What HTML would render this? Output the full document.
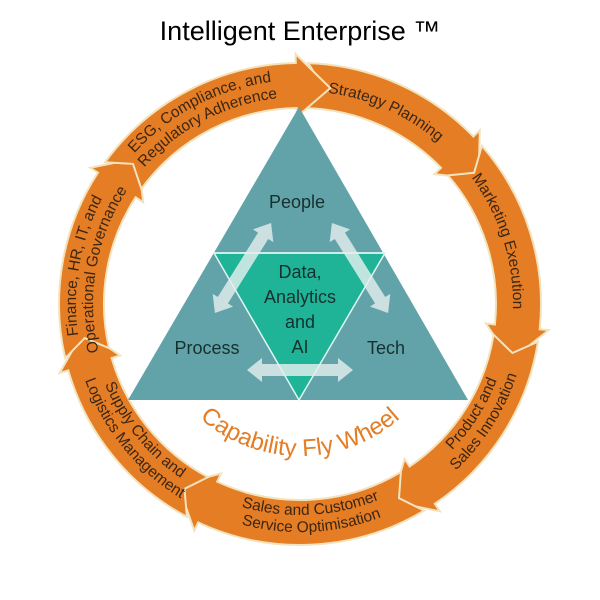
<!DOCTYPE html>
<html><head><meta charset="utf-8">
<style>
html,body{margin:0;padding:0;background:#fff;width:600px;height:600px;overflow:hidden}
svg{display:block}
.seg{fill:#e47d24;stroke:#f3e3bd;stroke-width:2;stroke-linejoin:miter}
.lbl{font-family:"Liberation Sans",sans-serif;font-size:15.5px;fill:#3b2614}
.tri{font-family:"Liberation Sans",sans-serif;font-size:18px;fill:#16302f}
</style></head>
<body>
<svg id="s" width="600" height="600" viewBox="0 0 600 600" xmlns="http://www.w3.org/2000/svg">
<defs>
<polygon id="dbl" points="-53,0 -38,-12 -38,-6 38,-6 38,-12 53,0 38,12 38,6 -38,6 -38,12"/>
</defs>
<text x="300" y="40" text-anchor="middle" font-family="Liberation Sans,sans-serif" font-size="27" fill="#000">Intelligent Enterprise ™</text>
<g id="ring"></g>
<polygon points="299,107 468,400 128,400" fill="#62a3a9"/>
<polygon points="214,253 385,253 299,400" fill="#1fb497" stroke="#dff7f2" stroke-width="1.5"/>
<line x1="214" y1="253" x2="385" y2="253" stroke="#dff7f2" stroke-width="1.5"/>
<g fill="#e4eeee" fill-opacity="0.82">
<use href="#dbl" transform="translate(243,268) rotate(-58)"/>
<use href="#dbl" transform="translate(360,268) rotate(58)"/>
<use href="#dbl" transform="translate(300,370)"/>
</g>
<text class="tri" x="297" y="208" text-anchor="middle">People</text>
<text class="tri" x="207" y="354" text-anchor="middle">Process</text>
<text class="tri" x="386" y="354" text-anchor="middle">Tech</text>
<text class="tri" text-anchor="middle"><tspan x="300" y="278">Data,</tspan><tspan x="300" y="303">Analytics</tspan><tspan x="300" y="328">and</tspan><tspan x="300" y="353">AI</tspan></text>
<g id="labels"></g>
</svg>
<script>
var cx=300,cy=304,R1=196,R2=241,Rm=218;
function P(r,a){a=a*Math.PI/180;return (cx+r*Math.cos(a)).toFixed(1)+","+(cy+r*Math.sin(a)).toFixed(1);}
var B=[-88,-41,9,59,118,167,216,272];
var ns="http://www.w3.org/2000/svg";
var ring=document.getElementById("ring"),labels=document.getElementById("labels"),svg=document.getElementById("s");
var defs=svg.querySelector("defs");
for(var i=0;i<7;i++){
 var a=B[i],b=B[i+1]-3;
 var d="M"+P(R2,a)+" L"+P(Rm,a+4)+" L"+P(R1,a)+
   " A"+R1+","+R1+" 0 0 1 "+P(R1,b)+" L"+P(R1-9,b)+" L"+P(Rm,b+9)+" L"+P(R2+9,b)+" L"+P(R2,b)+
   " A"+R2+","+R2+" 0 0 0 "+P(R2,a)+" Z";
 var p=document.createElementNS(ns,"path");p.setAttribute("d",d);p.setAttribute("class","seg");ring.appendChild(p);
}
var L=[
 [-88,-41,true,["Strategy Planning"]],
 [-41,9,true,["Marketing Execution"]],
 [9,59,false,["Product and","Sales Innovation"]],
 [59,118,false,["Sales and Customer","Service Optimisation"]],
 [118,167,false,["Supply Chain and","Logistics Management"]],
 [167,216,true,["Finance, HR, IT, and","Operational Governance"]],
 [216,272,true,["ESG, Compliance, and","Regulatory Adherence"]]
];
var id=0;
function arcPath(r,a,b,cw){
 if(cw) return "M"+P(r,a)+" A"+r+","+r+" 0 0 1 "+P(r,b);
 return "M"+P(r,b)+" A"+r+","+r+" 0 0 0 "+P(r,a);
}
L.forEach(function(l){
 var a=l[0]-25,b=l[1]+22,cw=l[2],lines=l[3],radii;
 if(cw) radii=lines.length==1?[213]:[224,207];
 else radii=lines.length==1?[224]:[211,228];
 lines.forEach(function(t,k){
  var pid="p"+(id++);
  var pa=document.createElementNS(ns,"path");pa.setAttribute("id",pid);pa.setAttribute("d",arcPath(radii[k],a,b,cw));defs.appendChild(pa);
  var tx=document.createElementNS(ns,"text");tx.setAttribute("class","lbl");tx.setAttribute("text-anchor","middle");
  var tp=document.createElementNS(ns,"textPath");tp.setAttribute("href","#"+pid);tp.setAttribute("startOffset","50%");tp.textContent=t;
  tx.appendChild(tp);labels.appendChild(tx);
 });
});
var pa=document.createElementNS(ns,"path");pa.setAttribute("id","fw");pa.setAttribute("d",arcPath(152,30,150,false));defs.appendChild(pa);
var tx=document.createElementNS(ns,"text");tx.setAttribute("text-anchor","middle");tx.setAttribute("font-family","Liberation Sans,sans-serif");tx.setAttribute("font-size","24");tx.setAttribute("fill","#e47d24");
var tp=document.createElementNS(ns,"textPath");tp.setAttribute("href","#fw");tp.setAttribute("startOffset","50%");tp.textContent="Capability Fly Wheel";tx.appendChild(tp);labels.appendChild(tx);
</script>
</body></html>
